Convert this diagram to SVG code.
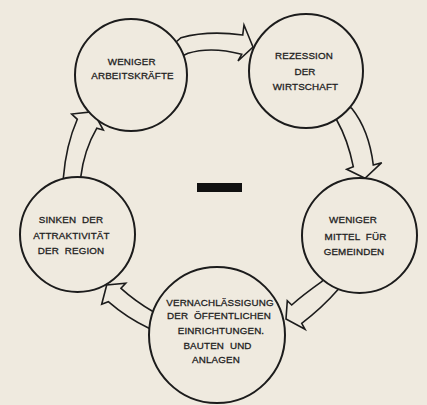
<svg xmlns="http://www.w3.org/2000/svg" width="427" height="405" viewBox="0 0 427 405">
<style>
.bg{fill:#efeadf}
.node circle{fill:#efeadf;stroke:#1c1c1c;stroke-width:2}
.arrow{fill:#efeadf;stroke:#1c1c1c;stroke-width:1.6;stroke-linejoin:miter}
text{font-family:"Liberation Sans",Arial,sans-serif;font-size:9.8px;letter-spacing:0.15px;word-spacing:3px;fill:#222;stroke:#222;stroke-width:0.3px;text-anchor:middle}
</style>
<rect class="bg" x="0" y="0" width="427" height="405"/>
<g id="connectors">
<path class="arrow" d="M176,42 L181,37.7 Q208,30.3 242.7,35 L244,25 L253,47 L238,61 L241.7,54.3 Q211,46.2 188,53.3 L180,57 Z"/>
<path class="arrow" d="M332,112 L336.7,120 Q348,140 353.3,166.7 L346.7,169.3 L365,178.3 L381.7,162.7 L373.3,165 Q369,130 351.7,108.3 L345,104 Z"/>
<path class="arrow" d="M326,276 L321.7,281.7 Q303,295 291.7,305 L287.3,300.7 L286,319 L305,329.3 L301.7,323.3 Q322,308 338.3,289.3 L342,283 Z"/>
<path class="arrow" d="M158,314 L153.3,311.7 Q135,301 121,288.3 L125.7,283.3 L106.7,285 L101.7,304.3 L108.3,301.7 Q127,318 149,328.3 L156,332 Z"/>
<path class="arrow" d="M63,183 L63.3,178.3 Q66,145 77.3,119.3 L71.7,114 L93.3,111.7 L103.3,130 L96.7,128.3 Q84,150 80.7,177.3 L80,183 Z"/>
</g>
<g id="n1" class="node"><circle cx="131" cy="75" r="56"/><text x="131.7" y="65">WENIGER</text><text x="132.5" y="78.5">ARBEITSKRÄFTE</text></g>
<g id="n2" class="node"><circle cx="306" cy="71" r="57"/><text x="304" y="58.5">REZESSION</text><text x="305" y="75">DER</text><text x="305.5" y="90">WIRTSCHAFT</text></g>
<g id="n3" class="node"><circle cx="359.5" cy="235.5" r="57.5"/><text x="353" y="223">WENIGER</text><text x="355.5" y="240">MITTEL FÜR</text><text x="354" y="255">GEMEINDEN</text></g>
<g id="n4" class="node"><circle cx="217" cy="335" r="68"/><text x="220" y="305.7">VERNACHLÄSSIGUNG</text><text x="219" y="319.3">DER ÖFFENTLICHEN</text><text x="221" y="334">EINRICHTUNGEN.</text><text x="217.5" y="349.3">BAUTEN UND</text><text x="216" y="363.3">ANLAGEN</text></g>
<g id="n5" class="node"><circle cx="77.5" cy="234.5" r="57.5"/><text x="71" y="223">SINKEN DER</text><text x="71.5" y="239">ATTRAKTIVITÄT</text><text x="71" y="254">DER REGION</text></g>
<rect x="197" y="183" width="45" height="9" fill="#111"/>
</svg>
